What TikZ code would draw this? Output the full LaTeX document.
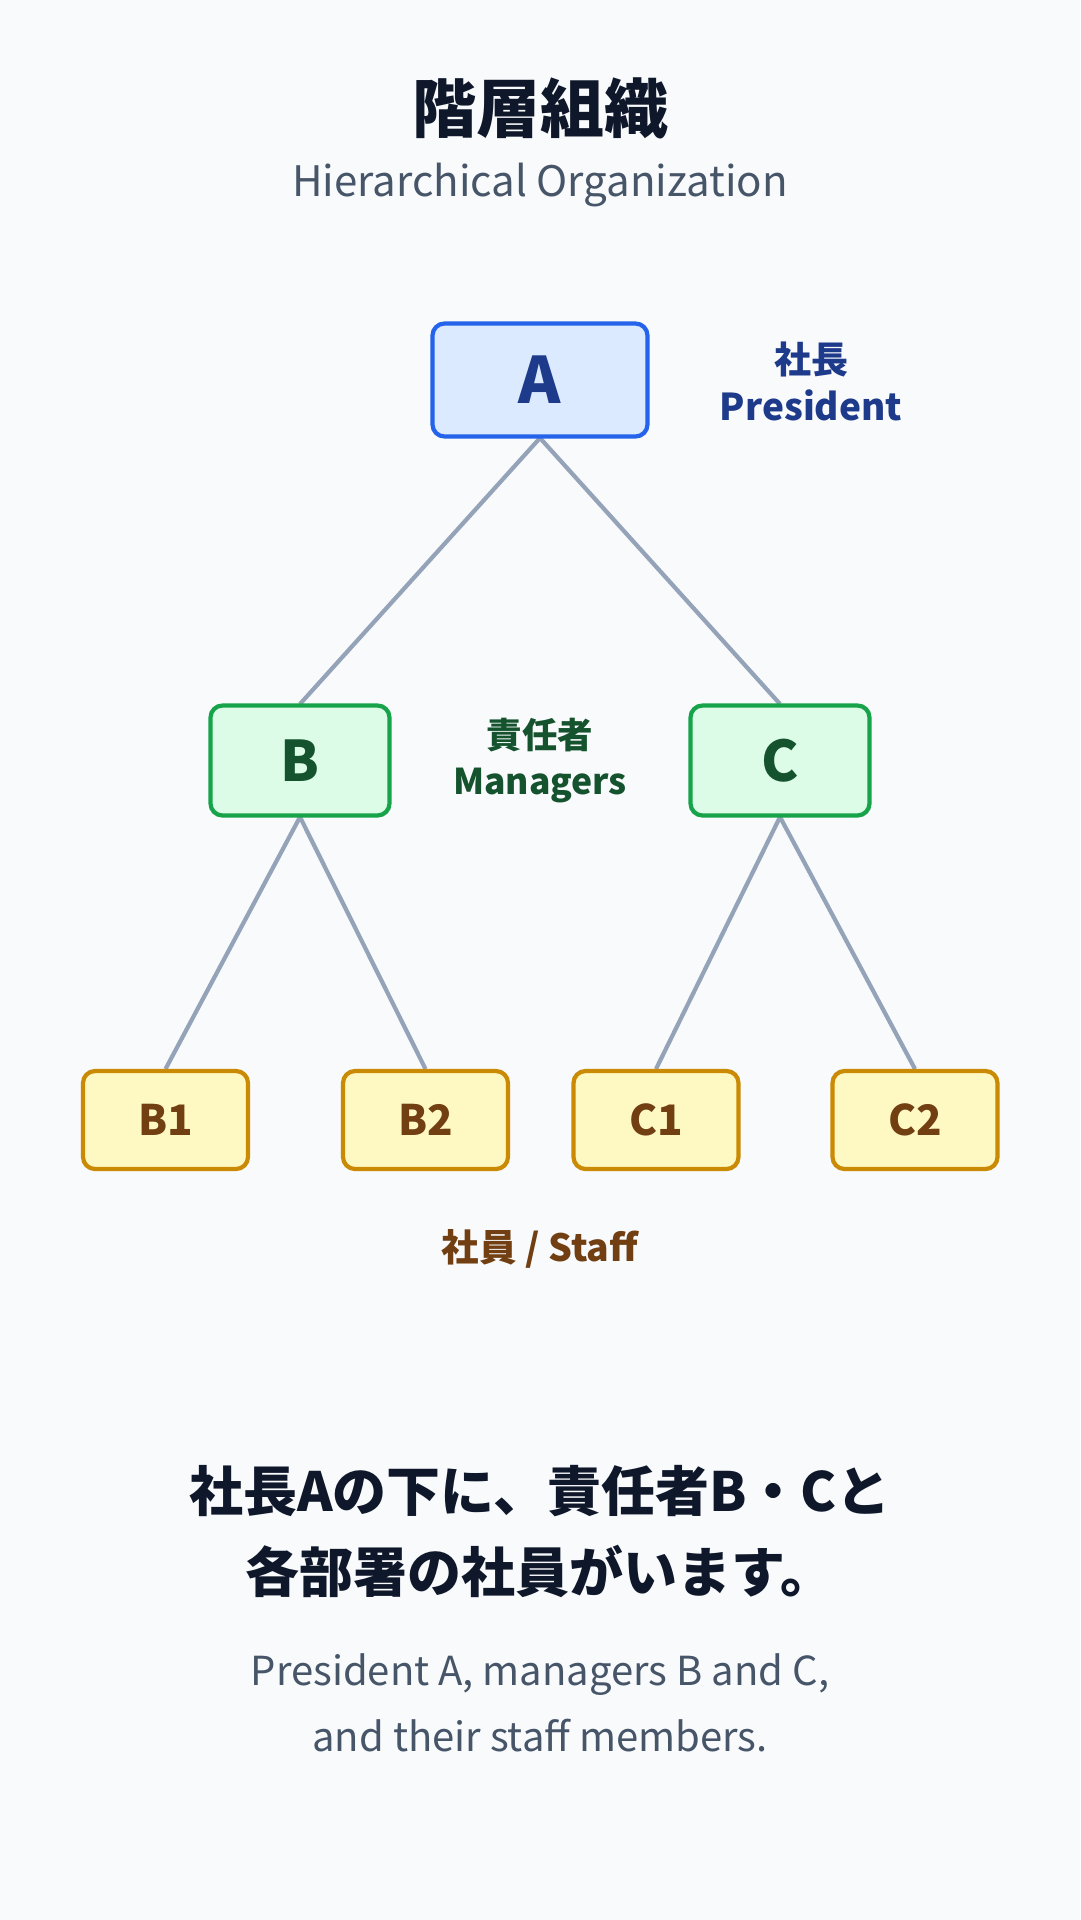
\documentclass[tikz,border=0pt]{standalone}
\usepackage{fontspec}
\setmainfont{Noto Sans CJK JP}
\definecolor{bg}{HTML}{F8FAFC}
\definecolor{titlec}{HTML}{0F172A}
\definecolor{subc}{HTML}{475569}
\definecolor{linec}{HTML}{94A3B8}
\definecolor{afill}{HTML}{DBEAFE}
\definecolor{adraw}{HTML}{2563EB}
\definecolor{atext}{HTML}{1E3A8A}
\definecolor{bfill}{HTML}{DCFCE7}
\definecolor{bdraw}{HTML}{16A34A}
\definecolor{btext}{HTML}{14532D}
\definecolor{sfill}{HTML}{FEF9C3}
\definecolor{sdraw}{HTML}{CA8A04}
\definecolor{stext}{HTML}{713F12}
\newcommand{\fs}[1]{\fontsize{#1}{#1}\selectfont}
\tikzset{
  presbox/.style={draw=adraw, fill=afill, line width=4.2pt, rounded corners=12pt,
    minimum width=215pt, minimum height=113pt, inner sep=0pt, text=atext,
    font=\fs{64}\bfseries},
  mgrbox/.style={draw=bdraw, fill=bfill, line width=4.2pt, rounded corners=12pt,
    minimum width=179pt, minimum height=110pt, inner sep=0pt, text=btext,
    font=\fs{56}\bfseries},
  staffbox/.style={draw=sdraw, fill=sfill, line width=4.2pt, rounded corners=12pt,
    minimum width=165pt, minimum height=98pt, inner sep=0pt, text=stext,
    font=\fs{42}\bfseries},
  conn/.style={draw=linec, line width=4.2pt},
  lbl/.style={inner sep=0pt, anchor=center}
}
\begin{document}
\begin{tikzpicture}[x=1pt,y=-1pt]
\fill[bg] (0,0) rectangle (1080,1920);
\useasboundingbox (0,0) rectangle (1080,1920);

\node[lbl, text=titlec, font=\fs{64}\bfseries] (title) at (540,108) {階層組織};
\node[lbl, text=subc, font=\fs{42}] (subtitle) at (540,185) {Hierarchical Organization};

% connectors (behind boxes)
\coordinate (Ab) at (540,438);
\coordinate (Bt) at (300,704);
\coordinate (Ct) at (780,704);
\coordinate (Bb) at (300,817);
\coordinate (Cb) at (780,817);
\coordinate (B1t) at (165.5,1069);
\coordinate (B2t) at (425.5,1069);
\coordinate (C1t) at (656,1069);
\coordinate (C2t) at (915,1069);
\draw[conn] (Ab) -- (Bt);
\draw[conn] (Ab) -- (Ct);
\draw[conn] (Bb) -- (B1t);
\draw[conn] (Bb) -- (B2t);
\draw[conn] (Cb) -- (C1t);
\draw[conn] (Cb) -- (C2t);

\node[presbox] (A) at (540,380) {A};
\node[mgrbox] (B) at (300,760.5) {B};
\node[mgrbox] (C) at (780,760.5) {C};
\node[staffbox] (B1) at (165.5,1120) {B1};
\node[staffbox] (B2) at (425.5,1120) {B2};
\node[staffbox] (C1) at (656,1120) {C1};
\node[staffbox] (C2) at (915,1120) {C2};

\node[lbl, text=atext, font=\fs{37}\bfseries] (presj) at (811,359) {社長};
\node[lbl, text=atext, font=\fs{37}\bfseries] (prese) at (811,405) {President};
\node[lbl, text=btext, font=\fs{35.5}\bfseries] (mgrj) at (540,735) {責任者};
\node[lbl, text=btext, font=\fs{35.5}\bfseries] (mgre) at (540,786) {Managers};
\node[lbl, text=stext, font=\fs{37.5}\bfseries] (staff) at (540,1249) {社員 / Staff};

\node[lbl, text=titlec, font=\fs{54}\bfseries] (sum1) at (540,1491) {社長Aの下に、責任者B・Cと};
\node[lbl, text=titlec, font=\fs{54}\bfseries] (sum2) at (540,1571) {各部署の社員がいます。};
\node[lbl, text=subc, font=\fs{40}] (eng1) at (540,1675) {President A, managers B and C,};
\node[lbl, text=subc, font=\fs{40}] (eng2) at (540,1736) {and their staff members.};
\end{tikzpicture}
\end{document}
